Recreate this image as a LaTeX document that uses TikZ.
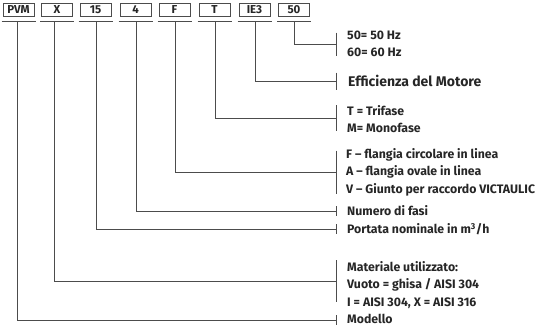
\documentclass[tikz,border=0pt]{standalone}
\usepackage{fontspec}
\setmainfont{Fira Sans}
\begin{document}
\begin{tikzpicture}[x=1pt,y=-1pt,
    codebox/.style={draw=black!70, line width=1pt, minimum width=31pt, minimum height=13pt,
      inner sep=0pt, font=\bfseries\fontsize{11.5}{12}\selectfont, text=black!85},
    lead/.style={draw=black!70, line width=0.8pt},
    desc/.style={anchor=west, align=left, inner sep=0pt,
      font=\bfseries\fontsize{12.3}{17.5}\selectfont, text=black!85}]
  \useasboundingbox (0,0) rectangle (537,327);
  % code fields
  \draw
    (18.5,9.5) node[codebox] (pvm){PVM}
    (57,9.5) node[codebox] (mat){X}
    (95.5,9.5) node[codebox] (port){15}
    (135.5,9.5) node[codebox] (fasi){4}
    (174.5,9.5) node[codebox] (flan){F}
    (214.5,9.5) node[codebox] (tens){T}
    (254.5,9.5) node[codebox] (eff){IE3}
    (294,9.5) node[codebox] (freq){50};
  % descriptions
  \draw
    (347,44) node[desc] (lfreq){50= 50 Hz\\60= 60 Hz}
    (348,81) node[desc, font=\bfseries\fontsize{14}{17.5}\selectfont] (leff){Efficienza del Motore}
    (347,119) node[desc] (ltens){T = Trifase\\M= Monofase}
    (346,172) node[desc] (lflan){F – flangia circolare in linea\\A – flangia ovale in linea\\V – Giunto per raccordo VICTAULIC}
    (347,211) node[desc] (lfasi){Numero di fasi}
    (347,229) node[desc] (lport){Portata nominale in m\textsuperscript{3}/h}
    (347,285) node[desc] (lmat){Materiale utilizzato:\\Vuoto = ghisa / AISI 304\\I = AISI 304, X = AISI 316}
    (347,319) node[desc] (lpvm){Modello};
  % leader start and end points
  \coordinate (dpvm) at (17,21);   \coordinate (bpvm) at (336,320);
  \coordinate (dmat) at (54.5,21); \coordinate (bmat) at (336,281);
  \coordinate (dport) at (96,21);  \coordinate (bport) at (336,229);
  \coordinate (dfasi) at (136,21); \coordinate (bfasi) at (336,211);
  \coordinate (dflan) at (175,21); \coordinate (bflan) at (336,172);
  \coordinate (dtens) at (215,21); \coordinate (btens) at (336,118);
  \coordinate (deff) at (255,21);  \coordinate (beff) at (336,81);
  \coordinate (dfreq) at (294,21); \coordinate (bfreq) at (336,44);
  \begin{scope}[lead]
    \foreach \n in {pvm,mat,port,fasi,flan,tens,eff,freq}{
      \draw ([xshift=-1pt,yshift=-5pt]\n.south west) -- ([xshift=1pt,yshift=-5pt]\n.south east);
      \draw (d\n) |- (b\n);
    }
    \foreach \n/\h in {pvm/5,mat/21,port/5,fasi/5,flan/21.5,tens/13,eff/8.5,freq/11.5}
      \draw ([yshift=\h pt]b\n) -- ([yshift=-\h pt]b\n);
  \end{scope}
\end{tikzpicture}
\end{document}
